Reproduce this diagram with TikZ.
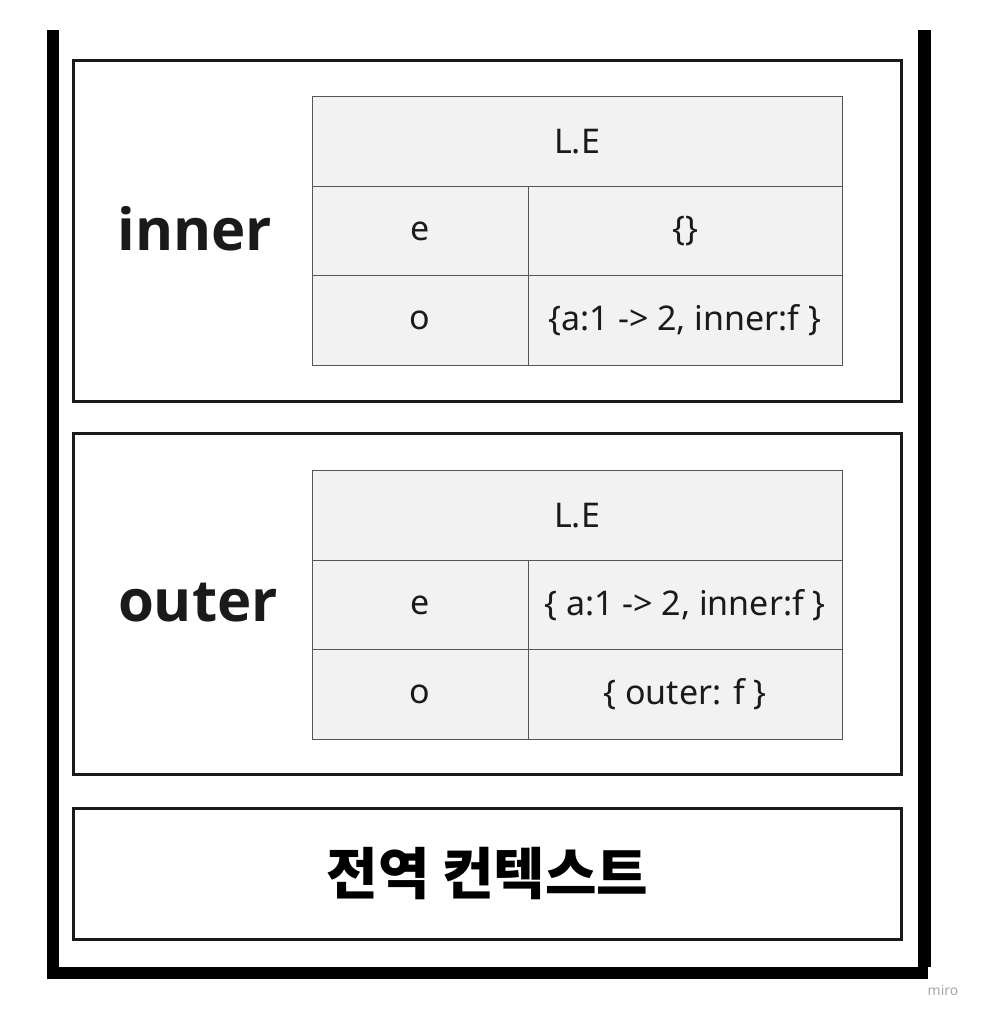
\documentclass[tikz,border=0pt]{standalone}
\usepackage{fontspec}
\setmainfont{Noto Sans}
\newfontfamily\namefont{Open Sans}
\newfontfamily\kofont{Noto Sans CJK KR}
\definecolor{ink}{HTML}{1A1A1A}
\definecolor{cellfill}{HTML}{F2F2F2}
\definecolor{cellline}{HTML}{555555}
\begin{document}
\begin{tikzpicture}[x=1pt,y=-1pt,
		ctxbox/.style={draw=ink,line width=3pt,minimum width=828pt,inner sep=0pt},
		cell/.style={draw=cellline,fill=cellfill,line width=1pt,minimum height=89.5pt,inner sep=0pt,text=ink,font=\fontsize{34}{40}\selectfont},
		keycell/.style={cell,minimum width=216pt},
		valcell/.style={cell,minimum width=314pt},
		headcell/.style={cell,minimum width=530pt},
		ctxname/.style={text=ink,font=\namefont\bfseries\fontsize{58}{66}\selectfont}]
	\useasboundingbox (0,0) rectangle (980,1019);
	% shadow frame
	\fill[black] (47,30) rectangle (59,979);
	\fill[black] (47,967) rectangle (928,979);
	\fill[black] (918,30) rectangle (931,967);
	% execution contexts
	\node[ctxbox,minimum height=341pt] (innerctx) at (487.5,231) {};
	\node[ctxbox,minimum height=341pt] (outerctx) at (487.5,604) {};
	\node[ctxbox,minimum height=131pt] (globalctx) at (487.5,874) {\kofont\bfseries\fontsize{56}{64}\selectfont 전역 컨텍스트};
	% inner
	\node[ctxname] (innername) at (195,229) {inner};
	\node[headcell] (innerle) at (577,141.5) {L.E};
	\node[keycell] (innerek) at (420,231) {e};
	\node[valcell] (innerev) at (685,231) {\{\}};
	\node[keycell] (innerok) at (420,320.5) {o};
	\node[valcell] (innerov) at (685,320.5) {\{a:1 -> 2, inner:f \}};
	% outer
	\node[ctxname] (outername) at (198,603) {outer};
	\node[headcell] (outerle) at (577,515.5) {L.E};
	\node[keycell] (outerek) at (420,605) {e};
	\node[valcell] (outerev) at (685,605) {\{ a:1 -> 2, inner:f \}};
	\node[keycell] (outerok) at (420,694.5) {o};
	\node[valcell] (outerov) at (685,694.5) {\{ outer: f \}};
	% watermark
	\node[text=black!35,font=\fontsize{14}{16}\selectfont] (miro) at (943,990) {miro};
\end{tikzpicture}
\end{document}
